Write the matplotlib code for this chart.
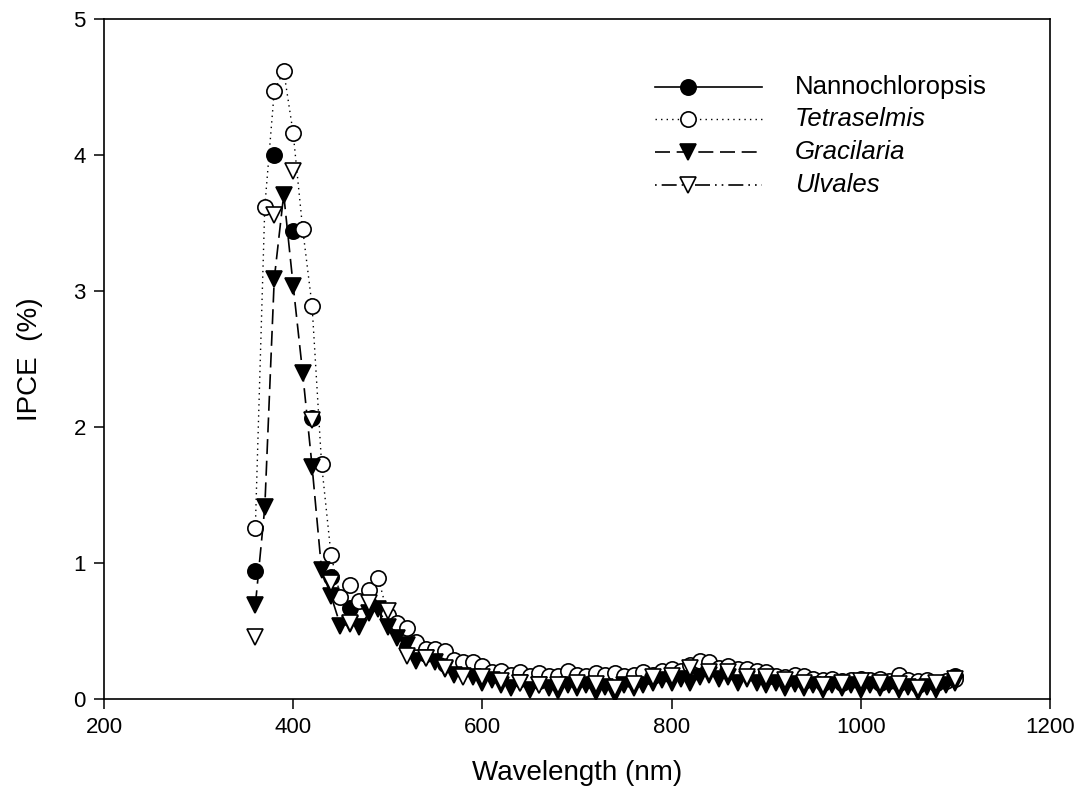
import numpy as np
import matplotlib
matplotlib.use('Agg')
import matplotlib.pyplot as plt

plt.rcParams['font.family'] = ['Liberation Sans', 'DejaVu Sans']

# Wavelength grids (nm)
wl_10 = list(range(360, 1101, 10))
wl_20 = list(range(360, 1101, 20))

# IPCE (%)
nanno = [0.94, 4.00, 3.44, 2.07, 0.90, 0.67, 0.70, 0.60, 0.38, 0.33,
         0.26, 0.22, 0.19, 0.16, 0.15, 0.13, 0.13, 0.14, 0.13, 0.12,
         0.14, 0.17, 0.19, 0.24, 0.25, 0.22, 0.19, 0.17, 0.15, 0.13,
         0.12, 0.12, 0.13, 0.12, 0.12, 0.10, 0.12, 0.17]

tetra = [1.26, 3.62, 4.47, 4.62, 4.16, 3.46, 2.89, 1.73, 1.06, 0.75,
         0.84, 0.72, 0.80, 0.89, 0.62, 0.56, 0.52, 0.42, 0.37, 0.37,
         0.35, 0.29, 0.27, 0.27, 0.24, 0.20, 0.21, 0.18, 0.20, 0.17,
         0.19, 0.17, 0.17, 0.21, 0.18, 0.17, 0.19, 0.18, 0.19, 0.17,
         0.18, 0.20, 0.18, 0.21, 0.22, 0.21, 0.25, 0.28, 0.27, 0.23,
         0.24, 0.22, 0.22, 0.21, 0.20, 0.17, 0.16, 0.18, 0.17, 0.15,
         0.14, 0.15, 0.13, 0.14, 0.15, 0.14, 0.15, 0.13, 0.18, 0.14,
         0.13, 0.14, 0.12, 0.13, 0.15]

graci = [0.69, 1.41, 3.09, 3.71, 3.04, 2.40, 1.71, 0.95, 0.76, 0.54,
         0.55, 0.53, 0.63, 0.66, 0.53, 0.45, 0.40, 0.28, 0.30, 0.27,
         0.22, 0.18, 0.17, 0.16, 0.12, 0.14, 0.10, 0.08, 0.12, 0.07,
         0.10, 0.08, 0.06, 0.10, 0.08, 0.10, 0.05, 0.09, 0.04, 0.10,
         0.08, 0.10, 0.12, 0.14, 0.12, 0.15, 0.12, 0.16, 0.18, 0.15,
         0.16, 0.12, 0.15, 0.12, 0.10, 0.12, 0.08, 0.11, 0.08, 0.10,
         0.07, 0.10, 0.08, 0.10, 0.07, 0.10, 0.08, 0.10, 0.07, 0.09,
         0.05, 0.09, 0.07, 0.10, 0.12]

ulva = [0.46, 3.56, 3.88, 2.05, 0.85, 0.56, 0.71, 0.65, 0.32, 0.30,
        0.23, 0.16, 0.16, 0.13, 0.12, 0.10, 0.10, 0.12, 0.11, 0.08,
        0.11, 0.16, 0.17, 0.23, 0.20, 0.20, 0.16, 0.16, 0.14, 0.12,
        0.10, 0.12, 0.13, 0.12, 0.11, 0.08, 0.12, 0.15]

names = ['Nannochloropsis', 'Tetraselmis', 'Gracilaria', 'Ulvales']

fig = plt.figure(figsize=(10.82, 8.11), dpi=100)
ax = fig.add_axes([0.0961, 0.138, 0.8743, 0.8385])

ms = 11
mew = 1.2
# Nannochloropsis and Ulvales are drawn as markers only in the plot area
ax.plot(wl_20, nanno, linestyle='none', marker='o', ms=ms, mfc='black',
        mec='black', mew=mew, zorder=2)
ax.plot(wl_10, tetra, linestyle=(0, (1, 3)), color='black', lw=1.0,
        marker='o', ms=ms, mfc='white', mec='black', mew=mew, zorder=3)
ax.plot(wl_10, graci, linestyle=(0, (9, 4)), color='black', lw=1.2,
        marker='v', ms=ms, mfc='black', mec='black', mew=mew, zorder=4)
ax.plot(wl_20, ulva, linestyle='none', marker='v', ms=ms, mfc='white',
        mec='black', mew=mew, zorder=5)

ax.set_xlim(200, 1200)
ax.set_ylim(0, 5)
ax.set_xticks([200, 400, 600, 800, 1000, 1200])
ax.set_yticks([0, 1, 2, 3, 4, 5])
ax.tick_params(direction='out', length=7, width=1.1, labelsize=16,
               top=False, right=False, pad=6)
for s in ax.spines.values():
    s.set_linewidth(1.2)

ax.set_xlabel('Wavelength (nm)', fontsize=20, labelpad=16)
ax.set_ylabel('IPCE  (%)', fontsize=20, labelpad=22)

# Legend drawn by hand (axes fraction coordinates)
def fx(px):
    return (px - 104) / 946.0

def fy(py):
    return 1 - (py - 19) / 680.0

rows = [87, 119, 152, 185]
styles = [
    dict(ls='-', lw=1.2, marker='o', mfc='black'),
    dict(ls=(0, (1, 3)), lw=1.0, marker='o', mfc='white'),
    dict(ls=(0, (9, 4)), lw=1.2, marker='v', mfc='black'),
    dict(ls=(0, (1, 3, 9, 3, 1, 3)), lw=1.2, marker='v', mfc='white'),
]
for name, row, st in zip(names, rows, styles):
    ax.plot([fx(655), fx(762)], [fy(row), fy(row)], transform=ax.transAxes,
            color='black', linestyle=st['ls'], lw=st['lw'], clip_on=False)
    ax.plot([fx(688)], [fy(row)], transform=ax.transAxes, marker=st['marker'],
            ms=ms, mfc=st['mfc'], mec='black', mew=mew, linestyle='none',
            clip_on=False, zorder=6)
    style = 'normal' if name == 'Nannochloropsis' else 'italic'
    ax.text(fx(795), fy(row), name, transform=ax.transAxes, fontsize=18.5,
            fontstyle=style, va='center', ha='left')

plt.savefig('out.png', dpi=100)
